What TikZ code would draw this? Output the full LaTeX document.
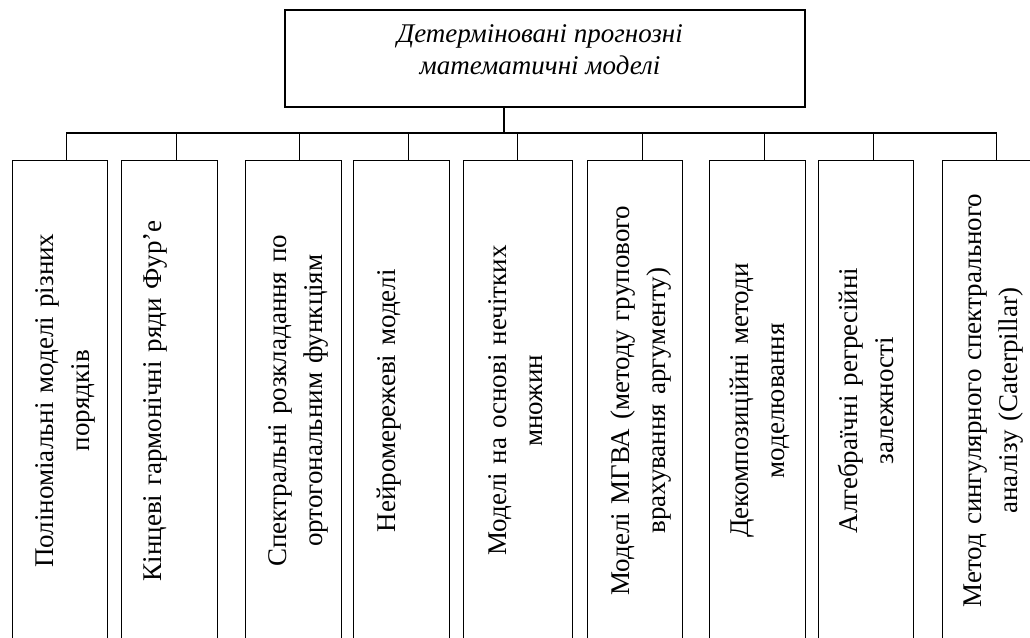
\documentclass[tikz,border=0pt]{standalone}
\usepackage{fontspec}
\setmainfont{Liberation Serif}
\usetikzlibrary{positioning,calc}

\begin{document}
\begin{tikzpicture}[x=1pt,y=-1pt,
		box/.style={draw,line width=1.3pt,minimum width=95pt,minimum height=480pt,anchor=north west,inner sep=0pt},
		vtext/.style={rotate=90,anchor=north,inner sep=0pt,text width=440pt,align=center,font=\fontsize{27}{36}\selectfont},
		link/.style={line width=1.3pt}]
	\useasboundingbox (0,0) rectangle (1030,637);
	% top box
	\node[draw,line width=1.3pt,minimum width=520pt,minimum height=97pt,inner sep=0pt] (top) at (545,58.5) {};
	\node[align=center,font=\fontsize{27}{32}\selectfont\itshape] (title) at (540,50) {Детерміновані прогнозні\\математичні моделі};
	\coordinate (hub) at (504,133);
	\draw[link] (top.south -| hub) -- (hub);
	% model boxes
	\node[box] (m1) at (12,160) {};
	\node[box,minimum width=96pt] (m2) at (121,160) {};
	\node[box,minimum width=96pt] (m3) at (245,160) {};
	\node[box,minimum width=96pt] (m4) at (353,160) {};
	\node[box,minimum width=109pt] (m5) at (463,160) {};
	\node[box] (m6) at (587,160) {};
	\node[box,minimum width=96pt] (m7) at (709,160) {};
	\node[box] (m8) at (818,160) {};
	\node[box] (m9) at (942,160) {};
	% labels
	\node[vtext] (t1) at ($(m1.west)+(23,0)$) {Поліноміальні моделі різних\\порядків};
	\node[vtext] (t2) at ($(m2.west)+(22,0)$) {Кінцеві гармонічні ряди Фур’е};
	\node[vtext] (t3) at ($(m3.west)+(23,0)$) {Спектральні розкладання по\\ортогональним функціям};
	\node[vtext] (t4) at ($(m4.west)+(24,0)$) {Нейромережеві моделі};
	\node[vtext] (t5) at ($(m5.west)+(25,0)$) {Моделі на основі нечітких\\множин};
	\node[vtext] (t6) at ($(m6.west)+(24,0)$) {Моделі МГВА (методу групового\\врахування аргументу)};
	\node[vtext] (t7) at ($(m7.west)+(21,0)$) {Декомпозиційні методи\\моделювання};
	\node[vtext] (t8) at ($(m8.west)+(20,0)$) {Алгебраїчні регресійні\\залежності};
	\node[vtext] (t9) at ($(m9.west)+(22,0)$) {Метод сингулярного спектрального\\аналізу (Caterpillar)};
	% connectors
	\draw[link] ([xshift=6.5pt]m1.north) |- (hub);
	\draw[link] ([xshift=7pt]m2.north) |- (hub);
	\draw[link] ([xshift=6pt]m3.north) |- (hub);
	\draw[link] ([xshift=7pt]m4.north) |- (hub);
	\draw[link] ([xshift=-0.5pt]m5.north) |- (hub);
	\draw[link] ([xshift=7.5pt]m6.north) |- (hub);
	\draw[link] ([xshift=7pt]m7.north) |- (hub);
	\draw[link] ([xshift=7.5pt]m8.north) |- (hub);
	\draw[link] ([xshift=6.5pt]m9.north) |- (hub);
\end{tikzpicture}
\end{document}
